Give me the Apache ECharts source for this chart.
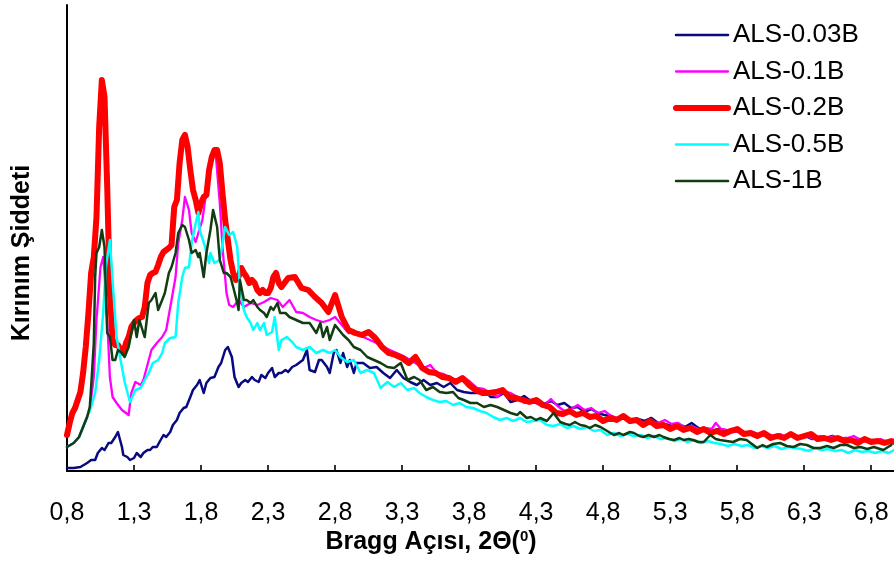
<!DOCTYPE html>
<html>
<head>
<meta charset="utf-8">
<script src="https://cdn.jsdelivr.net/npm/echarts@6/dist/echarts.min.js"></script>
<style>
  html, body { margin: 0; padding: 0; background: #ffffff; }
  #chart { width: 894px; height: 568px; }
</style>
</head>
<body>
<div id="chart"></div>
<script>
// Small-angle XRD patterns (2θ in degrees, intensity in arbitrary units)
const seriesNames = ['ALS-0.03B', 'ALS-0.1B', 'ALS-0.2B', 'ALS-0.5B', 'ALS-1B'];
const tickAngles = [0.8, 1.3, 1.8, 2.3, 2.8, 3.3, 3.8, 4.3, 4.8, 5.3, 5.8, 6.3, 6.8];

const angles003B = [0.80,0.85,0.90,0.95,0.98,1.01,1.03,1.06,1.08,1.11,1.13,1.16,1.18,1.21,1.22,1.25,1.27,1.30,1.32,1.35,
  1.37,1.40,1.42,1.44,1.47,1.49,1.52,1.54,1.57,1.59,1.62,1.64,1.67,1.69,1.72,1.74,1.77,1.79,1.82,1.84,
  1.87,1.90,1.93,1.95,1.98,2.00,2.03,2.05,2.08,2.10,2.13,2.15,2.18,2.20,2.23,2.25,2.28,2.30,2.33,2.35,
  2.38,2.40,2.43,2.45,2.48,2.51,2.56,2.59,2.61,2.65,2.68,2.70,2.74,2.76,2.79,2.81,2.84,2.86,2.89,2.91,
  2.94,2.96,3.01,3.06,3.11,3.16,3.21,3.26,3.31,3.36,3.41,3.46,3.51,3.56,3.61,3.66,3.71,3.76,3.81,3.86,
  3.91,3.96,4.01,4.06,4.11,
  4.16,4.21,4.26,4.31,4.36,4.41,4.46,4.51,4.56,4.61,4.66,4.71,4.76,4.81,4.86,4.91,4.96,5.01,5.06,5.11,
  5.16,5.21,5.26,5.31,5.36,5.41,5.46,5.51,5.56,5.61,5.66,5.71,5.76,5.81,5.86,5.91,5.96,6.01,6.06,6.11,
  6.16,6.21,6.26,6.31,6.36,6.41,6.46,6.51,6.56,6.61,6.66,6.71,6.76,6.81,6.86,6.91,6.96];
const intensity003B = [3,3,4,8,11,11,18,23,21,28,28,34,39,24,16,14,11,13,18,14,
  18,21,21,24,24,29,36,34,39,46,51,58,63,64,74,81,86,91,78,88,
  93,94,104,108,121,124,114,94,84,88,91,89,94,91,89,96,93,98,103,94,
  98,98,101,99,104,106,111,121,101,99,111,111,104,98,118,121,108,118,104,111,
  98,108,108,103,104,98,93,101,93,89,86,91,86,88,84,88,81,79,78,78,
  81,74,74,78,69,
  71,75,70,72,67,70,66,68,63,64,59,62,58,56,55,52,53,49,52,50,
  53,48,47,45,47,44,48,43,42,40,42,41,39,40,37,39,36,37,35,36,
  33,37,34,35,32,34,33,35,32,33,30,32,30,31,29,30,28];

const angles01B = [0.80,0.85,0.89,0.92,0.95,0.97,1.00,1.02,1.05,1.07,1.08,1.10,1.12,1.14,1.17,1.21,1.26,1.28,1.31,1.35,
  1.37,1.41,1.43,1.47,1.51,1.54,1.58,1.61,1.63,1.66,1.68,1.71,1.73,1.76,1.78,1.81,1.84,1.88,1.91,1.94,
  1.96,1.99,2.01,2.04,2.08,2.12,2.17,2.22,2.27,2.32,2.37,2.41,2.46,2.51,2.56,2.61,2.66,2.71,2.76,2.80,
  2.85,2.90,2.95,
  3.01,3.06,3.11,3.16,3.21,3.26,3.31,3.36,3.41,3.46,3.51,3.56,3.61,3.66,3.71,3.76,3.81,3.86,3.91,3.96,
  4.01,4.06,4.11,4.16,4.21,4.26,4.31,4.36,4.41,4.46,4.51,4.56,4.61,4.66,4.71,4.76,4.81,4.86,4.91,4.96,
  5.01,5.06,5.11,5.16,5.21,5.26,5.31,5.36,5.41,5.46,5.51,5.56,5.61,5.64,5.68,5.72,5.77,5.82,5.87,5.92,
  5.97,6.02,6.07,6.12,6.17,6.22,6.27,6.32,6.37,6.42,6.47,6.52,6.57,6.62,6.67,6.72,6.77,6.82,6.87,6.92,
  6.97];
const intensity01B = [24,28,34,44,54,62,94,151,204,214,198,151,94,74,68,61,56,78,89,86,
  91,111,121,128,134,141,171,194,228,251,274,261,238,229,238,251,280,311,316,268,
  224,178,166,164,171,164,168,166,169,173,171,164,171,159,158,154,151,149,151,154,
  146,138,139,
  134,131,128,124,121,118,115,111,107,103,106,98,97,93,91,94,89,83,82,78,
  74,80,78,74,68,71,67,66,72,65,60,62,66,61,63,58,60,55,53,55,
  49,51,48,50,48,51,47,48,43,45,42,43,42,48,42,41,39,40,37,39,
  36,38,35,37,34,37,34,35,32,35,33,35,32,33,35,31,32,30,32,29,
  30];

const angles02B = [0.80,0.82,0.84,0.86,0.88,0.90,0.92,0.94,0.96,0.98,1.00,1.02,1.04,1.06,1.08,1.10,1.12,1.14,1.16,1.18,
  1.20,1.22,1.24,1.26,1.28,1.30,1.32,1.34,1.36,1.38,1.40,1.42,1.44,1.46,1.48,1.50,1.52,1.54,1.56,1.58,
  1.60,1.62,1.64,1.66,1.68,1.70,1.72,1.74,1.76,1.78,1.80,1.82,1.84,1.86,1.88,1.90,1.92,1.94,1.96,1.98,
  2.00,2.02,2.04,2.06,2.08,2.10,2.12,2.14,2.16,2.18,2.20,2.22,2.24,2.26,2.28,2.30,2.32,2.34,2.36,2.38,
  2.40,2.45,2.50,2.55,2.60,2.65,2.70,2.75,2.80,2.85,2.90,2.95,3.00,3.05,3.10,3.15,3.20,3.25,3.30,3.35,
  3.40,3.45,3.50,3.55,3.60,3.65,3.70,3.75,3.80,3.85,3.90,3.95,4.00,4.05,4.10,4.15,4.20,4.25,4.30,4.35,
  4.40,4.45,4.50,4.55,4.60,4.65,4.70,4.75,4.80,4.85,4.90,4.95,5.00,5.05,5.10,5.15,5.20,5.25,5.30,5.35,
  5.40,5.45,5.50,5.55,5.60,5.65,5.70,5.75,5.80,5.85,5.90,5.95,6.00,6.05,6.10,6.15,6.20,6.25,6.30,6.35,
  6.40,6.45,6.50,6.55,6.60,6.65,6.70,6.75,6.80,6.85,6.90,6.95,7.00];
const intensity02B = [36,48,58,63,71,79,98,124,158,198,214,254,344,391,374,284,178,131,126,126,
  121,118,128,134,144,148,151,153,154,164,188,196,198,199,206,214,219,221,223,226,
  264,271,308,331,336,324,301,281,271,258,268,274,276,301,314,321,321,308,278,251,
  231,211,198,191,194,203,198,194,188,191,188,181,178,181,178,178,183,194,198,188,
  184,193,194,183,181,174,168,159,176,154,141,138,136,139,133,124,118,116,113,108,
  114,103,99,98,94,93,89,93,86,81,78,78,79,81,74,73,71,69,71,66,
  64,58,57,60,56,58,54,55,50,53,51,55,50,51,46,50,45,46,42,45,
  41,43,39,42,38,40,37,40,42,37,38,35,38,33,35,33,37,33,35,37,
  32,33,31,33,30,31,28,32,29,30,28,30,28];

const angles05B = [0.80,0.85,0.89,0.92,0.95,0.97,1.01,1.04,1.07,1.09,1.12,1.13,1.15,1.17,1.20,1.23,1.27,1.31,1.35,1.38,
  1.41,1.44,1.48,1.51,1.53,1.57,1.61,1.63,1.66,1.68,1.71,1.73,1.76,1.78,1.79,1.83,1.86,1.87,1.90,1.94,
  1.98,2.01,2.04,2.07,2.09,2.12,2.14,2.17,2.19,2.22,2.24,2.27,2.29,2.33,2.35,2.38,2.40,2.44,2.48,2.51,
  2.56,2.61,2.66,2.71,2.76,2.80,2.84,2.89,2.94,
  2.99,3.04,3.09,3.14,3.19,3.24,3.29,3.34,3.39,3.43,3.48,3.53,3.58,3.63,3.68,3.73,3.78,3.83,3.88,3.93,
  3.98,4.03,4.08,4.13,4.18,4.23,4.28,4.33,4.38,4.43,4.48,4.53,4.58,4.63,4.68,4.73,4.78,4.83,4.88,4.93,
  4.98,5.03,5.08,5.13,5.18,5.23,5.28,5.33,5.38,5.43,5.48,5.53,5.58,5.63,5.68,5.73,5.78,5.83,5.88,5.93,
  5.98,6.03,6.08,6.13,6.18,6.23,6.28,6.33,6.38,6.43,6.48,6.53,6.58,6.63,6.68,6.73,6.78,6.83,6.88,6.93,
  6.97];
const intensity05B = [24,28,34,44,54,60,78,111,158,204,231,211,171,134,111,89,69,81,83,91,
  98,108,111,118,128,133,134,168,194,203,204,228,248,259,241,224,208,218,208,211,
  244,236,239,224,184,161,154,148,141,148,141,148,136,139,154,121,131,134,129,124,
  121,124,118,121,118,121,114,109,111,
  98,101,98,83,89,84,88,81,83,78,74,71,69,70,66,68,64,63,60,58,
  54,51,53,50,53,49,50,51,46,45,47,43,45,42,44,40,41,36,38,35,
  37,35,36,33,35,32,33,30,32,29,31,28,30,28,27,25,27,25,26,23,
  25,23,25,22,24,23,22,20,23,21,22,20,21,18,21,19,20,18,20,18,
  21];

const angles1B = [0.80,0.85,0.89,0.92,0.95,0.97,0.98,1.00,1.01,1.02,1.04,1.06,1.08,1.09,1.10,1.12,1.14,1.16,1.18,1.21,
  1.23,1.26,1.28,1.30,1.32,1.34,1.37,1.38,1.41,1.43,1.46,1.48,1.51,1.53,1.56,1.58,1.61,1.63,1.66,1.68,
  1.71,1.73,1.76,1.78,1.79,1.82,1.84,1.87,1.89,1.92,1.94,1.97,1.99,2.02,2.04,2.07,2.08,2.09,2.12,2.14,
  2.17,2.19,2.22,2.24,2.27,2.29,2.32,2.34,2.37,2.39,2.43,2.46,2.51,2.56,2.61,2.66,2.69,2.71,2.74,2.76,
  2.80,2.83,2.86,2.90,2.94,
  2.99,3.04,3.09,3.14,3.19,3.24,3.29,3.34,3.39,3.43,3.48,3.53,3.58,3.63,3.68,3.72,3.76,3.81,3.86,3.91,
  3.96,4.01,4.06,4.11,4.16,4.18,4.23,4.26,4.30,4.33,4.38,4.43,4.48,4.52,4.55,4.59,4.63,4.67,4.70,4.74,
  4.78,4.83,4.88,4.92,4.95,5.00,5.03,5.07,5.10,5.14,5.18,5.22,5.25,5.29,5.33,5.37,5.40,5.44,5.47,5.51,
  5.55,5.60,5.64,5.67,5.72,5.77,5.82,5.87,5.91,5.95,5.99,6.02,6.07,6.12,6.17,6.22,6.27,6.32,6.37,6.42,
  6.47,6.52,6.57,6.62,6.67,6.72,6.77,6.82,6.89,6.95];
const intensity1B = [24,28,34,44,54,64,84,128,194,218,224,241,224,178,138,134,111,111,121,118,
  114,124,138,151,134,151,138,134,168,171,178,161,171,178,198,204,218,238,246,244,
  231,218,221,214,218,194,218,241,261,244,211,198,198,194,184,168,161,191,171,171,
  168,171,164,161,158,154,164,161,168,158,158,154,151,148,148,138,148,134,144,131,
  146,141,136,131,124,
  121,114,111,108,104,103,108,91,94,91,81,84,79,78,79,73,71,68,68,64,
  66,64,61,58,56,59,53,54,51,53,50,58,49,47,46,49,46,45,43,46,
  44,40,36,38,36,39,38,35,34,36,34,36,34,32,31,33,31,32,31,29,
  29,36,32,31,30,29,32,31,27,23,26,24,27,28,25,24,27,26,23,23,
  25,23,26,26,23,24,22,24,21,26];

const lineColors = ['#0a0a80', '#ff00ff', '#ff0000', '#00ffff', '#123d12'];
const lineWidths = [2.5, 2.3, 6, 2.5, 2.5];

const angleSets = [angles003B, angles01B, angles02B, angles05B, angles1B];
const intensitySets = [intensity003B, intensity01B, intensity02B, intensity05B, intensity1B];

const chart = echarts.init(document.getElementById('chart'), null, { renderer: 'canvas' });

const series = seriesNames.map((name, i) => ({
  name: name,
  type: 'line',
  data: angleSets[i].map((a, j) => [a, intensitySets[i][j]]),
  symbol: 'none',
  showSymbol: false,
  smooth: false,
  color: lineColors[i],
  lineStyle: { color: lineColors[i], width: lineWidths[i], join: 'round', cap: 'round' },
  emphasis: { disabled: true },
  animation: false
}));

chart.setOption({
  backgroundColor: '#ffffff',
  animation: false,
  textStyle: { fontFamily: 'Liberation Sans, Arial, sans-serif' },
  grid: { left: 67, right: 0, top: 5, bottom: 97 },
  legend: {
    data: seriesNames.map((name, i) => ({
      name: name,
      lineStyle: { color: lineColors[i], width: lineWidths[i], cap: 'round' }
    })),
    orient: 'vertical',
    left: 673,
    top: 22,
    padding: 0,
    itemWidth: 52,
    itemHeight: 26,
    itemGap: 10.5,
    itemStyle: { opacity: 0 },
    textStyle: { fontSize: 26, color: '#000000', fontFamily: 'Liberation Sans, Arial, sans-serif', lineHeight: 26 }
  },
  xAxis: {
    type: 'value',
    min: 0.8,
    max: 6.97,
    axisLine: { show: true, onZero: false, lineStyle: { color: '#000000', width: 2 } },
    axisTick: { show: true, inside: true, length: 6, customValues: tickAngles, lineStyle: { color: '#000000', width: 1.6 } },
    axisLabel: {
      customValues: tickAngles,
      margin: 30,
      fontSize: 25,
      color: '#000000',
      formatter: v => v.toFixed(1).replace('.', ',')
    },
    splitLine: { show: false }
  },
  yAxis: {
    type: 'value',
    min: 0,
    max: 466,
    axisLine: { show: true, lineStyle: { color: '#000000', width: 2 } },
    axisTick: { show: false },
    axisLabel: { show: false },
    splitLine: { show: false }
  },
  graphic: [
    {
      type: 'text',
      x: 22,
      y: 253,
      rotation: Math.PI / 2,
      style: {
        text: 'Kırınım Şiddeti',
        font: 'bold 25px "Liberation Sans", Arial, sans-serif',
        fill: '#000000',
        align: 'center',
        verticalAlign: 'middle'
      }
    },
    {
      type: 'text',
      x: 431,
      y: 542,
      style: {
        text: 'Bragg Açısı, 2Θ({s|0})',
        font: 'bold 25px "Liberation Sans", Arial, sans-serif',
        fill: '#000000',
        align: 'center',
        verticalAlign: 'middle',
        rich: {
          s: { fontSize: 15, fontWeight: 'bold', verticalAlign: 'top', fill: '#000000' }
        }
      }
    }
  ],
  series: series
});
</script>
</body>
</html>
